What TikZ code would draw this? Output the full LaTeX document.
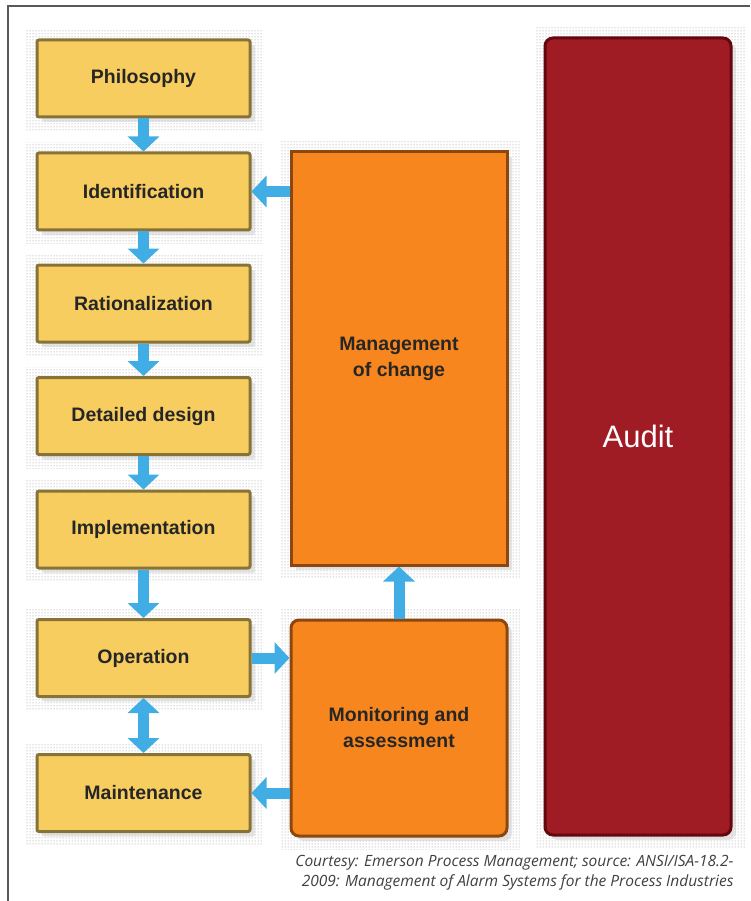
\documentclass[tikz,border=0pt]{standalone}
\usepackage{fontspec}
\setmainfont{Liberation Sans}
\newfontfamily\capfont{Open Sans}
\usetikzlibrary{arrows.meta,shadows,patterns,backgrounds}
\definecolor{boxyellow}{RGB}{248,205,95}
\definecolor{boxolive}{RGB}{135,115,55}
\definecolor{mocorange}{RGB}{247,134,30}
\definecolor{mocbrown}{RGB}{140,70,15}
\definecolor{auditred}{RGB}{160,28,36}
\definecolor{auditdark}{RGB}{100,8,14}
\definecolor{flowblue}{RGB}{64,174,228}
\begin{document}
\begin{tikzpicture}[x=1pt,y=-1pt,
  stepbox/.style={draw=boxolive,fill=boxyellow,line width=3pt,rounded corners=2pt,
    minimum width=213pt,minimum height=77pt,inner sep=0pt,
    font=\fontsize{19.5}{22}\selectfont\bfseries,text=black!85,
    drop shadow={shadow xshift=5pt,shadow yshift=-5pt,fill=black!20}},
  orangebox/.style={draw=mocbrown,fill=mocorange,line width=3pt,minimum width=216pt,
    inner sep=0pt,align=center,font=\fontsize{19.5}{26}\selectfont\bfseries,text=black!85,
    drop shadow={shadow xshift=5pt,shadow yshift=-5pt,fill=black!20}},
  flow/.style={draw=flowblue,line width=11pt,-{Triangle[width=31pt,length=15pt]}},
  twoflow/.style={draw=flowblue,line width=11pt,{Triangle[width=31pt,length=15pt]}-{Triangle[width=31pt,length=15pt]}}]
\useasboundingbox (0,0) rectangle (750,901);
\draw[line width=1.5pt,black!65] (8,901) -- (8,6) -- (750,6);
\foreach \name/\y/\txt in {phil/78.5/Philosophy,ident/191.5/Identification,ration/303.5/Rationalization,
  detail/416/Detailed design,implem/529.5/Implementation,oper/658/Operation,maint/793/Maintenance}
  \node[stepbox] (\name) at (143.5,\y) {\txt};
\node[orangebox,minimum height=413pt] (moc) at (399,358.5) {Management\\of change};
\node[orangebox,minimum height=216pt,rounded corners=8pt] (monit) at (399,728) {Monitoring and\\assessment};
\node[draw=auditdark,fill=auditred,line width=3pt,rounded corners=8pt,minimum width=186pt,minimum height=797pt,
  text=white,font=\fontsize{31}{34}\selectfont,
  drop shadow={shadow xshift=5pt,shadow yshift=-5pt,fill=black!20}] (audit) at (638,436.5) {Audit};
\begin{scope}[on background layer]
\foreach \n in {phil,ident,ration,detail,implem,oper,maint,moc,monit,audit}
  \fill[pattern=dots,pattern color=black!45] ([shift={(-9pt,9pt)}]\n.north west) rectangle ([shift={(12pt,-12pt)}]\n.south east);
\end{scope}
\draw[flow] (phil) -- (ident);
\draw[flow] (ident) -- (ration);
\draw[flow] (ration) -- (detail);
\draw[flow] (detail) -- (implem);
\draw[flow] (implem) -- (oper);
\draw[twoflow] (oper) -- (maint);
\draw[flow] (ident.east -| moc.west) -- (ident.east);
\draw[flow] (oper.east) -- (oper.east -| monit.west);
\draw[flow] (maint.east -| monit.west) -- (maint.east);
\draw[flow] (monit) -- (moc);
\node[anchor=south east,align=right,text=black!75,font=\capfont\itshape\fontsize{15.5}{20}\selectfont] (credit) at (737,894)
  {Courtesy: Emerson Process Management; source: ANSI/ISA-18.2-\\2009: Management of Alarm Systems for the Process Industries};
\end{tikzpicture}
\end{document}
